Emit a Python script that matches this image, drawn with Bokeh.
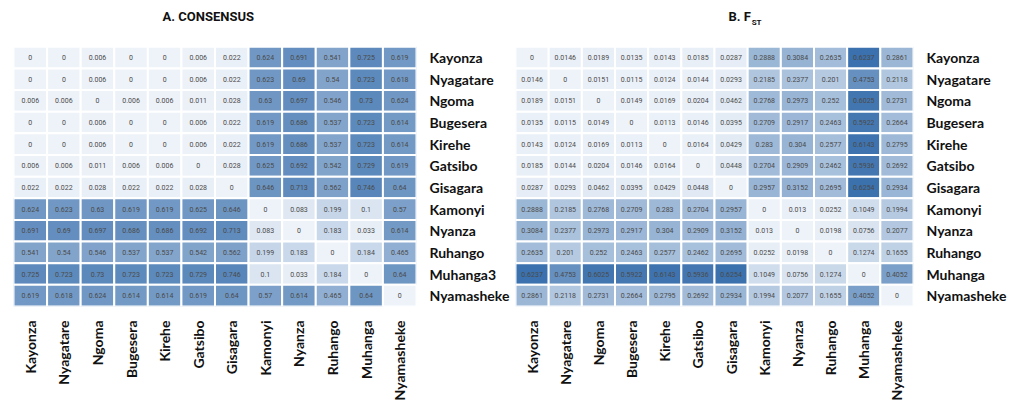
import math

from bokeh.core.properties import value
from bokeh.embed import file_html
from bokeh.layouts import row
from bokeh.models import ColumnDataSource, LinearColorMapper
from bokeh.plotting import figure
from bokeh.resources import INLINE

# District names (columns), row labels for each panel
districts = ["Kayonza", "Nyagatare", "Ngoma", "Bugesera", "Kirehe", "Gatsibo",
             "Gisagara", "Kamonyi", "Nyanza", "Ruhango", "Muhanga", "Nyamasheke"]
consensus_rows = ["Kayonza", "Nyagatare", "Ngoma", "Bugesera", "Kirehe", "Gatsibo",
                  "Gisagara", "Kamonyi", "Nyanza", "Ruhango", "Muhanga3", "Nyamasheke"]
fst_rows = districts

# A. pairwise consensus distances
consensus = [
    [0, 0, 0.006, 0, 0, 0.006, 0.022, 0.624, 0.691, 0.541, 0.725, 0.619],
    [0, 0, 0.006, 0, 0, 0.006, 0.022, 0.623, 0.69, 0.54, 0.723, 0.618],
    [0.006, 0.006, 0, 0.006, 0.006, 0.011, 0.028, 0.63, 0.697, 0.546, 0.73, 0.624],
    [0, 0, 0.006, 0, 0, 0.006, 0.022, 0.619, 0.686, 0.537, 0.723, 0.614],
    [0, 0, 0.006, 0, 0, 0.006, 0.022, 0.619, 0.686, 0.537, 0.723, 0.614],
    [0.006, 0.006, 0.011, 0.006, 0.006, 0, 0.028, 0.625, 0.692, 0.542, 0.729, 0.619],
    [0.022, 0.022, 0.028, 0.022, 0.022, 0.028, 0, 0.646, 0.713, 0.562, 0.746, 0.64],
    [0.624, 0.623, 0.63, 0.619, 0.619, 0.625, 0.646, 0, 0.083, 0.199, 0.1, 0.57],
    [0.691, 0.69, 0.697, 0.686, 0.686, 0.692, 0.713, 0.083, 0, 0.183, 0.033, 0.614],
    [0.541, 0.54, 0.546, 0.537, 0.537, 0.542, 0.562, 0.199, 0.183, 0, 0.184, 0.465],
    [0.725, 0.723, 0.73, 0.723, 0.723, 0.729, 0.746, 0.1, 0.033, 0.184, 0, 0.64],
    [0.619, 0.618, 0.624, 0.614, 0.614, 0.619, 0.64, 0.57, 0.614, 0.465, 0.64, 0],
]

# B. pairwise FST
fst = [
    [0, 0.0146, 0.0189, 0.0135, 0.0143, 0.0185, 0.0287, 0.2888, 0.3084, 0.2635, 0.6237, 0.2861],
    [0.0146, 0, 0.0151, 0.0115, 0.0124, 0.0144, 0.0293, 0.2185, 0.2377, 0.201, 0.4753, 0.2118],
    [0.0189, 0.0151, 0, 0.0149, 0.0169, 0.0204, 0.0462, 0.2768, 0.2973, 0.252, 0.6025, 0.2731],
    [0.0135, 0.0115, 0.0149, 0, 0.0113, 0.0146, 0.0395, 0.2709, 0.2917, 0.2463, 0.5922, 0.2664],
    [0.0143, 0.0124, 0.0169, 0.0113, 0, 0.0164, 0.0429, 0.283, 0.304, 0.2577, 0.6143, 0.2795],
    [0.0185, 0.0144, 0.0204, 0.0146, 0.0164, 0, 0.0448, 0.2704, 0.2909, 0.2462, 0.5936, 0.2692],
    [0.0287, 0.0293, 0.0462, 0.0395, 0.0429, 0.0448, 0, 0.2957, 0.3152, 0.2695, 0.6254, 0.2934],
    [0.2888, 0.2185, 0.2768, 0.2709, 0.283, 0.2704, 0.2957, 0, 0.013, 0.0252, 0.1049, 0.1994],
    [0.3084, 0.2377, 0.2973, 0.2917, 0.304, 0.2909, 0.3152, 0.013, 0, 0.0198, 0.0756, 0.2077],
    [0.2635, 0.201, 0.252, 0.2463, 0.2577, 0.2462, 0.2695, 0.0252, 0.0198, 0, 0.1274, 0.1655],
    [0.6237, 0.4753, 0.6025, 0.5922, 0.6143, 0.5936, 0.6254, 0.1049, 0.0756, 0.1274, 0, 0.4052],
    [0.2861, 0.2118, 0.2731, 0.2664, 0.2795, 0.2692, 0.2934, 0.1994, 0.2077, 0.1655, 0.4052, 0],
]

LABEL_FONT = "Lato"
# two blank factors above the matrix leave a band for the panel heading
HEAD_ROWS = ["  ", " "]


def blue_ramp(n=256, lo=(238, 243, 249), hi=(58, 112, 173)):
    cols = []
    for i in range(n):
        t = i / (n - 1)
        c = [round(a + (b - a) * t) for a, b in zip(lo, hi)]
        cols.append("#%02x%02x%02x" % tuple(c))
    return cols


def heatmap(matrix, rows, cols, high, width, left, right):
    xs, ys, vals, txt = [], [], [], []
    for i, r in enumerate(rows):
        for j, c in enumerate(cols):
            xs.append(c)
            ys.append(r)
            vals.append(matrix[i][j])
            txt.append("{:g}".format(matrix[i][j]))
    src = ColumnDataSource(dict(x=xs, y=ys, v=vals, t=txt))
    mapper = LinearColorMapper(palette=blue_ramp(), low=0, high=high)

    p = figure(width=width, height=403, x_range=cols,
               y_range=list(reversed(rows)) + HEAD_ROWS,
               x_axis_location="below", y_axis_location="right",
               output_backend="svg", toolbar_location=None,
               min_border_left=left, min_border_right=right,
               min_border_top=3, min_border_bottom=87)
    p.rect("x", "y", 1, 1, source=src,
           fill_color={"field": "v", "transform": mapper},
           line_color="white", line_width=2)
    p.text("x", "y", text="t", source=src, text_align="center",
           text_baseline="middle", text_font_size="7px",
           text_color="#4a4a4a", text_font=value("Roboto"))

    p.outline_line_color = None
    p.grid.grid_line_color = None
    for ax in (p.xaxis, p.yaxis):
        ax.axis_line_color = None
        ax.major_tick_line_color = None
        ax.minor_tick_line_color = None
        ax.major_label_text_font = LABEL_FONT
        ax.major_label_text_font_style = "bold"
        ax.major_label_text_font_size = "14px"
        ax.major_label_text_color = "#111111"
    p.xaxis.major_label_orientation = math.pi / 2
    p.xaxis.major_label_standoff = 8
    p.yaxis.major_label_standoff = 7
    return p


def heading(p, x, y, text, align, size):
    p.text(x=[x], y=[y], text=[text], text_align=align, text_baseline="middle",
           text_font=value("Roboto"), text_font_style="bold",
           text_font_size=size, text_color="#111111")


left_plot = heatmap(consensus, consensus_rows, districts, 0.9, 512, 13, 92)
heading(left_plot, 5.8, 13.39, "A. CONSENSUS", "center", "13px")

right_plot = heatmap(fst, fst_rows, districts, 0.63, 497, 3, 86)
heading(right_plot, 7.1, 13.39, "B. F", "right", "13px")
heading(right_plot, 7.12, 13.1, "ST", "left", "8px")

layout = row(left_plot, right_plot, spacing=0)
open("out.html", "w").write(file_html(layout, INLINE))
